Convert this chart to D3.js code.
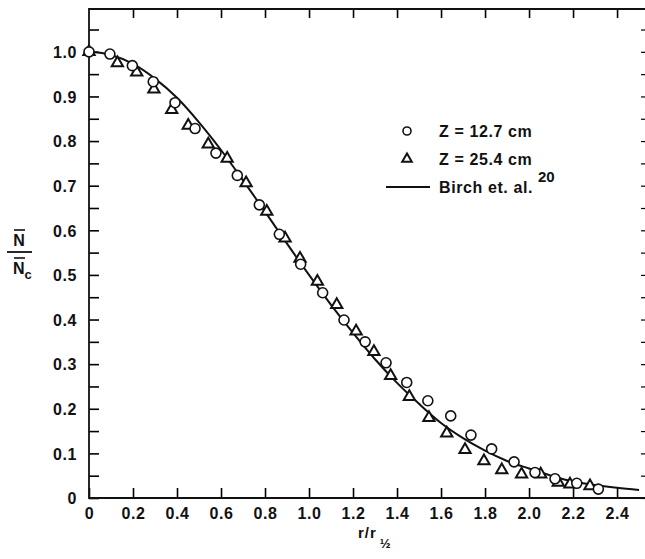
<!DOCTYPE html>
<html>
<head>
<meta charset="utf-8">
<script src="https://cdn.jsdelivr.net/npm/d3@7"></script>
<style>
  body { margin: 0; background: #fff; }
  svg text { font-family: "Liberation Sans", Arial, sans-serif; font-weight: bold; fill: #111; }
</style>
</head>
<body>
<script>
// values
var circleR = [0, 0.095, 0.197, 0.292, 0.391, 0.482, 0.577, 0.674, 0.774, 0.865, 0.962, 1.062,
  1.159, 1.255, 1.35, 1.444, 1.54, 1.644, 1.736, 1.830, 1.932, 2.027, 2.118, 2.217, 2.315];
var circleN = [1.0, 0.995, 0.969, 0.933, 0.886, 0.828, 0.773, 0.723, 0.657, 0.591, 0.524, 0.460,
  0.399, 0.350, 0.303, 0.259, 0.218, 0.184, 0.141, 0.110, 0.081, 0.057, 0.043, 0.033, 0.020];

var triR = [0, 0.129, 0.217, 0.295, 0.376, 0.451, 0.542, 0.628, 0.714, 0.808, 0.891, 0.959, 1.038,
  1.126, 1.214, 1.295, 1.371, 1.456, 1.545, 1.626, 1.709, 1.795, 1.876, 1.966, 2.053, 2.133, 2.186, 2.277];
var triN = [1.0, 0.975, 0.954, 0.916, 0.870, 0.835, 0.793, 0.761, 0.706, 0.642, 0.582, 0.537, 0.485,
  0.433, 0.374, 0.328, 0.274, 0.227, 0.180, 0.145, 0.108, 0.083, 0.063, 0.053, 0.053, 0.035, 0.031, 0.027];

// Birch et al. curve, read at 0.1 steps
var birchR = [0, 0.1, 0.2, 0.3, 0.4, 0.5, 0.6, 0.7, 0.8, 0.9, 1.0, 1.1, 1.2, 1.3,
  1.4, 1.5, 1.6, 1.7, 1.8, 1.9, 2.0, 2.1, 2.2, 2.3, 2.4, 2.5];
var birchN = [1.0, 0.993, 0.973, 0.940, 0.897, 0.842, 0.780, 0.712, 0.642, 0.570, 0.500, 0.433, 0.370, 0.311,
  0.258, 0.211, 0.168, 0.134, 0.106, 0.083, 0.066, 0.050, 0.037, 0.029, 0.023, 0.018];

var xTicks = [0, 0.2, 0.4, 0.6, 0.8, 1.0, 1.2, 1.4, 1.6, 1.8, 2.0, 2.2, 2.4];
var yTicks = [0, 0.1, 0.2, 0.3, 0.4, 0.5, 0.6, 0.7, 0.8, 0.9, 1.0];
var yMinor = d3.range(0, 22).map(function(i){ return i * 0.05; });

var legendLabels = ["Z = 12.7 cm", "Z = 25.4 cm", "Birch et. al."];

var W = 645, H = 559;
var x = d3.scaleLinear().domain([0, 2.527]).range([89, 645]);
var y = d3.scaleLinear().domain([0, 1.096]).range([498, 9]);

var svg = d3.select("body").append("svg").attr("width", W).attr("height", H);

var fmt = function(d){ return d === 0 ? "0" : d.toFixed(1); };

// left axis: minor + major ticks
svg.append("g").attr("transform", "translate(89,0)")
  .call(d3.axisLeft(y).tickValues(yMinor).tickSize(-10).tickSizeOuter(0).tickFormat(""))
  .call(function(g){ g.select(".domain").remove(); g.selectAll("line").attr("stroke-width", 1.6); });
svg.append("g").attr("transform", "translate(89,0)")
  .call(d3.axisLeft(y).tickValues(yTicks).tickSize(0).tickPadding(12).tickFormat(fmt))
  .call(function(g){
    g.select(".domain").remove();
    g.selectAll("text").attr("font-size", 16).attr("letter-spacing", "0.6px").attr("dy", "0.36em");
  });

// right axis ticks
svg.append("g").attr("transform", "translate(645,0)")
  .call(d3.axisRight(y).tickValues(yMinor).tickSize(-4).tickSizeOuter(0).tickFormat(""))
  .call(function(g){ g.select(".domain").remove(); g.selectAll("line").attr("stroke-width", 1.2); });

// bottom axis
svg.append("g").attr("transform", "translate(0,498)")
  .call(d3.axisBottom(x).tickValues(xTicks).tickSize(-10).tickSizeOuter(0).tickPadding(7).tickFormat(fmt))
  .call(function(g){
    g.select(".domain").remove();
    g.selectAll("line").attr("stroke-width", 1.6);
    g.selectAll("text").attr("font-size", 16).attr("letter-spacing", "0.6px").attr("dy", "0.9em");
  });

// top axis
svg.append("g").attr("transform", "translate(0,9)")
  .call(d3.axisTop(x).tickValues(xTicks.slice(1)).tickSize(-9).tickSizeOuter(0).tickFormat(""))
  .call(function(g){ g.select(".domain").remove(); g.selectAll("line").attr("stroke-width", 1.6); });

// frame
svg.append("path")
  .attr("d", "M645,9H89V498H645")
  .attr("fill", "none").attr("stroke", "#111").attr("stroke-width", 1.8);

// Birch curve
var line = d3.line().x(function(d){ return x(d[0]); }).y(function(d){ return y(d[1]); }).curve(d3.curveMonotoneX);
svg.append("path")
  .datum(birchR.map(function(r, i){ return [r, birchN[i]]; }))
  .attr("d", line).attr("fill", "none").attr("stroke", "#111").attr("stroke-width", 2);

var tri = d3.symbol().type(d3.symbolTriangle).size(55);

// triangles
svg.append("g").selectAll("path")
  .data(triR.map(function(r, i){ return [r, triN[i]]; }))
  .join("path")
  .attr("d", tri)
  .attr("transform", function(d){ return "translate(" + x(d[0]) + "," + y(d[1]) + ")"; })
  .attr("fill", "#fff").attr("stroke", "#111").attr("stroke-width", 2);

// circles
svg.append("g").selectAll("circle")
  .data(circleR.map(function(r, i){ return [r, circleN[i]]; }))
  .join("circle")
  .attr("cx", function(d){ return x(d[0]); })
  .attr("cy", function(d){ return y(d[1]); })
  .attr("r", 5)
  .attr("fill", "#fff").attr("stroke", "#111").attr("stroke-width", 1.6);

// legend
var lg = svg.append("g");
lg.append("circle").attr("cx", 407).attr("cy", 131).attr("r", 4)
  .attr("fill", "#fff").attr("stroke", "#111").attr("stroke-width", 1.6);
lg.append("path").attr("d", d3.symbol().type(d3.symbolTriangle).size(40))
  .attr("transform", "translate(407,159)")
  .attr("fill", "#fff").attr("stroke", "#111").attr("stroke-width", 2);
lg.append("line").attr("x1", 386).attr("x2", 430).attr("y1", 187).attr("y2", 187)
  .attr("stroke", "#111").attr("stroke-width", 1.8);
lg.selectAll("text.lab").data(legendLabels).join("text")
  .attr("class", "lab")
  .attr("x", 439)
  .attr("y", function(d, i){ return 137 + i * 28; })
  .attr("font-size", 16).attr("letter-spacing", "0.6px")
  .text(function(d){ return d; });
lg.append("text").attr("x", 538).attr("y", 182).attr("font-size", 15).text("20");

// x axis title r/r1/2
var xt = svg.append("text").attr("x", 358).attr("y", 538).attr("font-size", 15).attr("letter-spacing", "1px");
xt.append("tspan").text("r/r");
xt.append("tspan").attr("dx", 3).attr("dy", 10).attr("font-size", 13).text("½");

// y axis title: N-bar over N-bar_c
var yl = svg.append("g");
yl.append("text").attr("x", 19).attr("y", 246).attr("font-size", 16).attr("text-anchor", "middle").text("N");
yl.append("line").attr("x1", 14).attr("x2", 25).attr("y1", 230).attr("y2", 230).attr("stroke", "#111").attr("stroke-width", 1.6);
yl.append("line").attr("x1", 7).attr("x2", 32).attr("y1", 252).attr("y2", 252).attr("stroke", "#111").attr("stroke-width", 1.8);
yl.append("line").attr("x1", 14).attr("x2", 25).attr("y1", 258).attr("y2", 258).attr("stroke", "#111").attr("stroke-width", 1.6);
var den = yl.append("text").attr("x", 13).attr("y", 274).attr("font-size", 16);
den.append("tspan").text("N");
den.append("tspan").attr("dy", 5).attr("font-size", 13).text("c");
</script>
</body>
</html>
